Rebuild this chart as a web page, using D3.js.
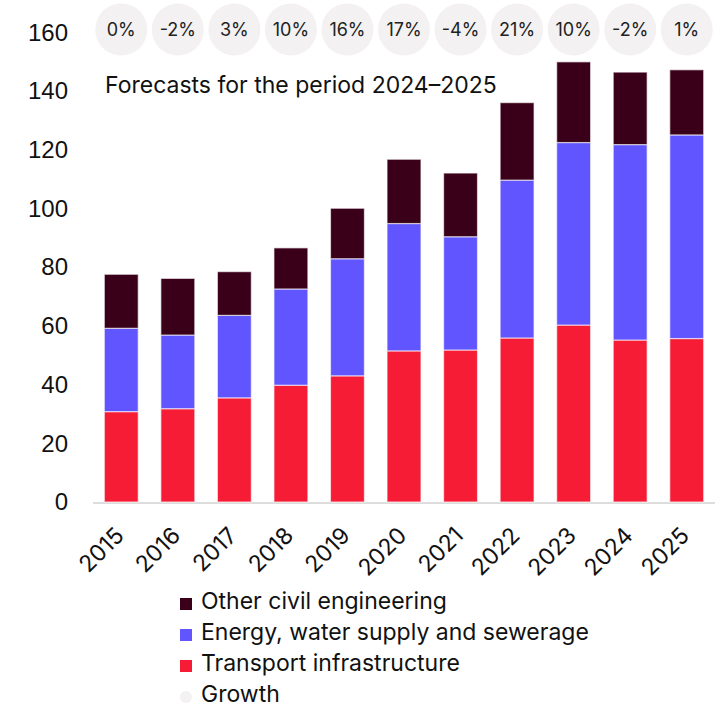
<!DOCTYPE html>
<html>
<head>
<meta charset="utf-8">
<script src="https://cdn.jsdelivr.net/npm/d3@7"></script>
<style>
  html, body { margin: 0; padding: 0; background: #fff; }
  svg { display: block; font-family: "Inter", "Liberation Sans", sans-serif; }
</style>
</head>
<body>
<svg id="chart" width="721" height="708"></svg>
<script>
// Civil engineering output by segment, 2015–2025
const years = ["2015", "2016", "2017", "2018", "2019", "2020", "2021", "2022", "2023", "2024", "2025"];
const transport = [30.8, 31.8, 35.5, 39.8, 43.0, 51.5, 51.8, 55.9, 60.3, 55.2, 55.7];
const energy    = [28.4, 25.1, 28.1, 32.8, 39.9, 43.4, 38.6, 53.8, 62.2, 66.6, 69.4];
const other     = [18.4, 19.3, 14.9, 14.0, 17.2, 21.9, 21.7, 26.4, 27.5, 24.7, 22.2];
const growthLabels = ["0%", "-2%", "3%", "10%", "16%", "17%", "-4%", "21%", "10%", "-2%", "1%"];
const yTicks = [0, 20, 40, 60, 80, 100, 120, 140, 160];

const seriesKeys = ["transport", "energy", "other"];
const seriesNames = {
  other: "Other civil engineering",
  energy: "Energy, water supply and sewerage",
  transport: "Transport infrastructure"
};
const colors = { transport: "#f61c35", energy: "#6155ff", other: "#3b0019" };
const growthFill = "#f3f1f2";

const rows = years.map((y, i) => ({ year: y, transport: transport[i], energy: energy[i], other: other[i] }));

const svg = d3.select("#chart");
const fontSize = 23;

const x = d3.scaleBand().domain(years).range([93, 715]).paddingInner(0.4).paddingOuter(0.2);
const y = d3.scaleLinear().domain([0, 160]).range([502, 32.5]);

// y axis labels
const yAxis = svg.append("g")
  .attr("transform", "translate(78,0)")
  .call(d3.axisLeft(y).tickValues(yTicks).tickSize(0).tickPadding(10));
yAxis.select(".domain").remove();
yAxis.selectAll("text").attr("font-size", 24).attr("fill", "#111").attr("font-family", null);

// baseline
svg.append("line")
  .attr("x1", x.range()[0]).attr("x2", x.range()[1])
  .attr("y1", y(0) + 1).attr("y2", y(0) + 1)
  .attr("stroke", "#dcdcdc").attr("stroke-width", 2);

// stacked bars
const stack = d3.stack().keys(seriesKeys)(rows);
svg.append("g").selectAll("g")
  .data(stack)
  .join("g")
  .attr("fill", d => colors[d.key])
  .selectAll("rect")
  .data(d => d)
  .join("rect")
  .attr("x", d => x(d.data.year))
  .attr("width", x.bandwidth())
  .attr("y", d => y(d[1]))
  .attr("height", d => y(d[0]) - y(d[1]))
  .attr("stroke", "#fff")
  .attr("stroke-opacity", 0.6)
  .attr("stroke-width", 1.2);

// growth bubbles
const bubbles = svg.append("g").selectAll("g")
  .data(years)
  .join("g")
  .attr("transform", d => `translate(${x(d) + x.bandwidth() / 2},29.5)`);
bubbles.append("circle").attr("r", 26).attr("fill", growthFill);
bubbles.append("text")
  .attr("text-anchor", "middle")
  .attr("dy", "0.35em")
  .attr("font-size", 18)
  .attr("fill", "#222")
  .text((d, i) => growthLabels[i]);

// forecast note
svg.append("text")
  .attr("x", 105).attr("y", 93)
  .attr("font-size", fontSize)
  .attr("fill", "#111")
  .text("Forecasts for the period 2024–2025");

// x axis labels
svg.append("g").selectAll("text")
  .data(years)
  .join("text")
  .attr("transform", d => `translate(${x(d) + x.bandwidth() / 2 + 4},537) rotate(-45)`)
  .attr("text-anchor", "end")
  .attr("font-size", fontSize)
  .attr("fill", "#111")
  .text(d => d);

// legend
const legendItems = [
  { name: seriesNames.other, color: colors.other, shape: "square" },
  { name: seriesNames.energy, color: colors.energy, shape: "square" },
  { name: seriesNames.transport, color: colors.transport, shape: "square" },
  { name: "Growth", color: growthFill, shape: "circle" }
];
const legend = svg.append("g").selectAll("g")
  .data(legendItems)
  .join("g")
  .attr("transform", (d, i) => `translate(180,${601 + i * 31})`);
legend.filter(d => d.shape === "square").append("rect")
  .attr("x", 0).attr("y", -3).attr("width", 12).attr("height", 12)
  .attr("fill", d => d.color);
legend.filter(d => d.shape === "circle").append("circle")
  .attr("cx", 6).attr("cy", 3).attr("r", 6)
  .attr("fill", d => d.color);
legend.append("text")
  .attr("x", 21).attr("dy", "0.35em")
  .attr("font-size", fontSize)
  .attr("fill", "#111")
  .text(d => d.name);
</script>
</body>
</html>
